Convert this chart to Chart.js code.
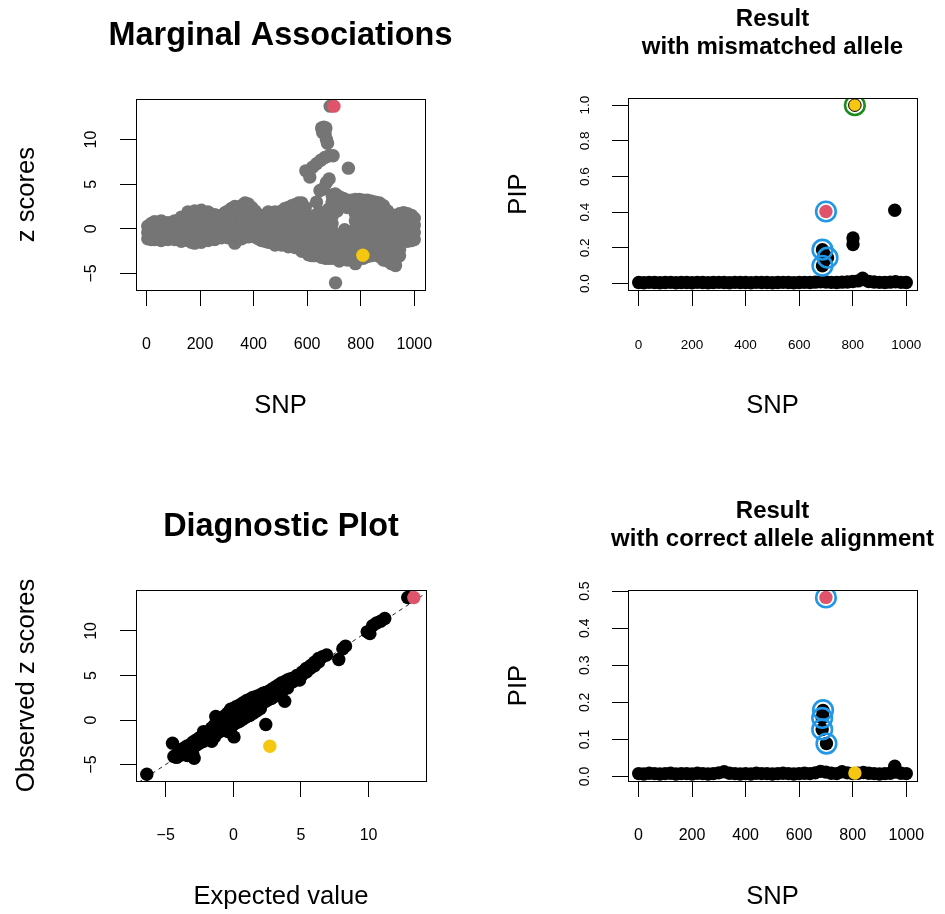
<!DOCTYPE html>
<html>
<head>
<meta charset="utf-8">
<title>Allele flip diagnostics</title>
<script src="https://cdn.jsdelivr.net/npm/chart.js@4.4.1/dist/chart.umd.min.js"></script>
<style>
  html, body { margin: 0; background: #fff; }
  #page { position: relative; width: 945px; height: 914px; }
  #page canvas { position: absolute; left: 0; top: 0; }
</style>
</head>
<body>
<div id="page">
  <canvas id="chart-marginal" width="945" height="914"></canvas>
  <canvas id="chart-mismatch" width="945" height="914"></canvas>
  <canvas id="chart-diagnostic" width="945" height="914"></canvas>
  <canvas id="chart-corrected" width="945" height="914"></canvas>
</div>
<script>
// ---- data -------------------------------------------------------------

// lead SNP (red) and the SNP with the flipped allele (yellow)
const leadSnp = 700;
const leadZ = 13.75;
const leadExpected = 13.35;
const flipSnp = 808;
const flipZ = -2.95;
const flipExpected = 2.7;

// marginal z score per SNP, [snp, z]
const marginalZ = [
  [5,0.3],[5,-0.4],[5,-1.1],[18,0.6],[18,-0.2],[18,-1.2],
  [30,0.8],[30,0.0],[30,-0.7],[30,-1.2],[45,0.5],[45,-0.5],
  [55,0.9],[55,0.1],[55,-0.6],[55,-1.3],[68,0.4],[68,-0.9],
  [80,0.7],[80,0.0],[80,-0.7],[80,-1.2],[93,0.3],[93,-0.4],
  [105,0.9],[105,0.1],[105,-0.5],[105,-1.2],[118,0.6],[118,-0.9],
  [130,1.3],[130,0.5],[130,-0.3],[130,-1.0],[130,-1.4],[143,0.9],[143,-0.6],
  [155,1.9],[155,1.1],[155,0.3],[155,-0.5],[155,-1.3],[168,1.5],[168,-0.1],[168,-1.5],
  [180,2.0],[180,1.2],[180,0.4],[180,-0.4],[180,-1.1],[180,-1.6],[193,1.6],[193,0.0],[193,-0.8],
  [205,2.1],[205,1.3],[205,0.5],[205,-0.3],[205,-1.0],[205,-1.5],[218,1.7],[218,0.1],[218,-1.2],
  [230,1.9],[230,1.1],[230,0.3],[230,-0.5],[230,-1.3],[243,1.2],[243,-0.9],
  [255,1.6],[255,0.8],[255,0.0],[255,-0.7],[255,-1.2],[268,0.4],[268,-0.3],
  [280,1.5],[280,0.7],[280,-0.1],[280,-1.0],[293,1.8],[293,0.3],[293,-0.6],
  [305,2.0],[305,1.2],[305,0.4],[305,-0.4],[305,-1.0],[318,2.3],[318,0.8],[318,-0.2],
  [330,2.5],[330,1.7],[330,0.9],[330,0.1],[330,-0.6],[330,-1.6],[343,2.2],[343,0.5],[343,-0.9],
  [355,2.6],[355,1.8],[355,1.0],[355,0.2],[355,-0.5],[355,-1.1],[368,2.9],[368,1.4],[368,-0.2],
  [380,2.8],[380,2.0],[380,1.2],[380,0.4],[380,-0.4],[380,-0.9],[393,2.4],[393,0.8],[393,-0.1],
  [405,2.0],[405,1.2],[405,0.4],[405,-0.3],[405,-0.9],[418,1.6],[418,0.0],[418,-1.1],
  [430,1.5],[430,0.7],[430,-0.1],[430,-0.8],[430,-1.3],[443,1.2],[443,-0.4],[443,-1.4],
  [455,1.9],[455,1.1],[455,0.3],[455,-0.5],[455,-1.5],[468,1.6],[468,0.0],[468,-1.0],
  [480,1.9],[480,1.0],[480,0.2],[480,-0.6],[480,-1.3],[480,-1.8],[493,1.5],[493,-0.2],[493,-1.0],
  [505,2.0],[505,1.2],[505,0.4],[505,-0.4],[505,-1.2],[505,-1.8],[518,2.3],[518,0.8],[518,-0.8],
  [530,2.4],[530,1.6],[530,0.8],[530,0.0],[530,-0.8],[530,-1.5],[530,-2.0],
  [543,2.6],[543,1.1],[543,-0.4],[543,-1.7],
  [555,2.7],[555,1.9],[555,1.1],[555,0.3],[555,-0.5],[555,-1.3],[555,-2.1],
  [568,2.9],[568,1.5],[568,-0.1],[568,-1.6],
  [580,2.9],[580,2.1],[580,1.3],[580,0.5],[580,-0.3],[580,-1.1],[580,-1.9],[580,-2.5],
  [593,2.4],[593,0.9],[593,-0.7],[593,-2.2],
  [605,1.4],[605,0.6],[605,-0.2],[605,-1.0],[605,-1.8],[605,-2.6],[605,-2.9],
  [618,1.0],[618,-0.6],[618,-2.1],[618,-3.0],
  [630,1.5],[630,0.7],[630,-0.1],[630,-0.9],[630,-1.7],[630,-2.5],[630,-3.0],
  [643,1.8],[643,0.3],[643,-1.3],[643,-2.8],
  [655,1.8],[655,1.0],[655,0.2],[655,-0.6],[655,-1.4],[655,-2.2],[655,-2.9],[655,-3.2],
  [668,1.3],[668,-0.3],[668,-1.8],[668,-3.3],
  [680,2.2],[680,1.4],[680,0.6],[680,-0.2],[680,-1.0],[680,-1.8],[680,-2.6],[680,-3.3],
  // signal around the lead SNP
  [686,13.75],
  [654,11.3],[662,11.4],[670,11.3],[658,10.8],[667,10.6],[672,10.0],[676,9.6],
  [595,6.5],[610,5.8],[620,6.9],[635,7.3],[651,7.7],[666,8.0],[682,8.2],[697,8.2],
  [635,3.0],[648,4.3],[660,4.5],[672,5.2],[682,5.6],[754,6.8],[706,-6.05],
  [693,3.8],[693,3.0],[693,2.2],[693,1.4],[693,0.6],[693,-0.2],[693,-1.0],[693,-1.8],[693,-2.6],[693,-3.3],
  [705,3.9],[705,3.1],[705,-0.7],[705,-1.5],[705,-2.3],[705,-3.1],[712,2.0],[740,-0.1],
  [720,3.6],[720,2.8],[720,-0.8],[720,-1.6],[720,-2.4],[720,-3.2],[720,-3.6],
  [735,3.4],[735,2.6],[735,-0.7],[735,-1.5],[735,-2.3],[735,-3.1],
  [750,3.2],[750,2.4],[750,-0.6],[750,-1.4],[750,-2.2],[750,-3.0],[750,-3.5],
  [765,3.2],[765,2.4],[765,-0.6],[765,-1.4],[765,-2.2],[765,-3.0],
  [780,3.3],[780,2.5],[780,1.7],[780,0.9],[780,0.1],[780,-0.7],[780,-1.5],[780,-2.3],[780,-3.1],[780,-3.9],
  [795,3.3],[795,2.5],[795,1.7],[795,0.9],[795,0.1],[795,-0.7],[795,-1.5],[795,-2.3],[795,-3.1],
  [810,3.2],[810,2.4],[810,1.6],[810,0.8],[810,0.0],[810,-0.8],[810,-1.6],[810,-2.3],[810,-3.3],
  [825,3.2],[825,2.4],[825,1.6],[825,0.8],[825,0.0],[825,-0.8],[825,-1.6],[825,-2.4],[825,-3.1],
  [840,3.1],[840,2.3],[840,1.5],[840,0.7],[840,-0.1],[840,-0.9],[840,-1.8],[840,-2.5],[840,-3.0],
  [855,3.0],[855,2.2],[855,1.4],[855,0.6],[855,-0.2],[855,-2.0],[855,-2.8],
  [870,2.9],[870,2.1],[870,1.3],[870,0.5],[870,-0.3],[870,-1.9],[870,-2.7],[870,-3.1],
  [885,2.6],[885,1.8],[885,1.0],[885,0.2],[885,-0.6],[885,-1.4],[885,-2.2],[885,-3.0],[885,-3.5],
  [900,2.0],[900,1.2],[900,0.4],[900,-0.4],[900,-1.2],[900,-2.0],[900,-2.8],[900,-3.6],
  [915,1.6],[915,0.8],[915,0.0],[915,-0.8],[915,-1.6],[915,-2.4],[915,-3.2],[915,-3.9],
  [930,1.4],[930,0.6],[930,-0.2],[930,-1.0],[930,-1.8],[930,-2.6],[930,-3.4],[930,-4.1],
  [945,1.7],[945,0.9],[945,0.1],[945,-0.7],[945,-1.5],[945,-2.3],[945,-3.0],
  [960,1.8],[960,1.0],[960,0.2],[960,-0.6],[960,-1.4],
  [975,1.7],[975,0.9],[975,0.1],[975,-0.7],[975,-1.4],
  [990,1.5],[990,0.7],[990,-0.1],[990,-0.9],[990,-1.3],
  [1000,1.2],[1000,0.4],[1000,-0.4],[1000,-1.2]
];

// expected vs observed z score, [expected, observed]
const diagZ = [
  [-6.4,-6.1],[-4.5,-2.6],[-4.4,-4.1],[-4.2,-3.9],[-4.2,-4.2],[-4.0,-3.5],[-4.0,-4.0],
  [-3.8,-3.3],[-3.8,-3.9],[-3.6,-3.1],[-3.6,-3.7],[-3.4,-2.9],[-3.4,-3.5],[-3.4,-4.0],
  [-3.2,-2.8],[-3.2,-3.4],[-3.0,-2.5],[-3.0,-3.1],[-3.0,-3.8],[-2.9,-4.3],
  [-2.8,-2.3],[-2.8,-2.9],[-2.6,-2.1],[-2.6,-2.7],[-2.4,-1.9],[-2.4,-2.5],
  [-2.2,-1.3],[-2.2,-1.8],[-2.2,-2.4],[-2.0,-1.5],[-2.0,-2.1],[-1.8,-1.2],[-1.8,-1.9],
  [-1.6,-0.9],[-1.6,-1.5],[-1.6,-2.4],[-1.4,-0.6],[-1.4,-1.2],[-1.4,-1.9],[-1.3,0.4],
  [-1.2,-0.3],[-1.2,-0.9],[-1.2,-1.5],[-1.0,0.0],[-1.0,-0.6],[-1.0,-1.3],
  [-0.8,0.2],[-0.8,-0.4],[-0.8,-1.1],[-0.6,0.5],[-0.6,-0.1],[-0.6,-0.8],
  [-0.4,0.8],[-0.4,0.2],[-0.4,-0.5],[-0.4,-1.3],[-0.2,1.2],[-0.2,0.5],[-0.2,-0.2],[-0.2,-0.9],
  [0.0,1.3],[0.0,0.7],[0.0,0.1],[0.0,-0.5],[0.05,-1.9],
  [0.2,1.5],[0.2,0.9],[0.2,0.3],[0.2,-0.3],[0.4,1.6],[0.4,1.0],[0.4,0.4],[0.4,-0.2],
  [0.6,1.8],[0.6,1.2],[0.6,0.6],[0.6,0.0],[0.8,2.0],[0.8,1.4],[0.8,0.8],[0.8,0.2],
  [1.0,2.2],[1.0,1.6],[1.0,1.0],[1.0,0.4],[1.2,2.3],[1.2,1.8],[1.2,1.2],[1.2,0.5],
  [1.4,2.5],[1.4,1.9],[1.4,1.3],[1.4,0.7],[1.6,2.6],[1.6,2.1],[1.6,1.5],[1.6,0.9],
  [1.8,2.7],[1.8,2.2],[1.8,1.7],[1.8,1.1],[2.0,2.8],[2.0,2.4],[2.0,1.9],[2.0,1.3],
  [2.2,3.0],[2.2,2.5],[2.2,2.0],[2.4,3.1],[2.4,2.6],[2.4,2.1],[2.4,-0.5],
  [2.6,3.2],[2.6,2.8],[2.6,2.3],[2.8,3.4],[2.8,2.9],[2.8,2.4],
  [3.0,3.6],[3.0,3.1],[3.0,2.6],[3.2,3.8],[3.2,3.3],[3.2,2.8],
  [3.4,4.0],[3.4,3.5],[3.4,3.0],[3.6,4.2],[3.6,3.7],[3.6,3.2],[3.8,4.3],[3.8,3.9],[3.8,2.1],
  [4.0,4.5],[4.0,4.1],[4.0,3.6],[4.2,4.6],[4.2,4.2],[4.4,4.7],[4.4,4.3],[4.7,5.0],[4.9,4.5],
  [5.1,5.4],[5.1,5.1],[5.4,5.8],[5.4,5.4],[5.7,6.1],[5.7,5.8],[6.0,6.5],[6.0,6.1],
  [6.3,6.9],[6.3,6.5],[6.6,7.1],[6.9,7.3],[7.8,6.8],[8.1,8.0],[8.3,8.3],
  [9.9,9.9],[10.1,9.7],[10.3,10.6],[10.6,10.9],[10.9,11.1],[11.2,11.4],[12.9,13.75]
];
// ends of the y = x reference line
const refLine = [-8, 15];

// PIP along the region; most SNPs sit near zero
const snpGrid = [1,20,40,60,80,100,120,140,160,180,200,220,240,260,280,300,320,340,360,380,
  400,420,440,460,480,500,520,540,560,580,600,620,640,660,680,700,720,740,760,780,
  800,820,840,860,880,900,920,940,960,980,1000];
const pipMismatchBase = [0.006,0.005,0.007,0.006,0.005,0.006,0.007,0.005,0.006,0.006,
  0.005,0.007,0.006,0.005,0.006,0.007,0.006,0.005,0.007,0.006,0.006,0.005,0.007,0.006,
  0.006,0.005,0.006,0.007,0.006,0.005,0.006,0.007,0.006,0.008,0.010,0.009,0.007,0.006,
  0.008,0.009,0.012,0.015,0.022,0.012,0.009,0.007,0.006,0.008,0.010,0.007,0.006];
const pipCorrectBase = [0.008,0.007,0.009,0.008,0.007,0.008,0.009,0.007,0.008,0.008,
  0.007,0.009,0.008,0.007,0.008,0.010,0.013,0.009,0.008,0.007,0.008,0.007,0.009,0.008,
  0.008,0.007,0.008,0.009,0.008,0.007,0.008,0.009,0.008,0.010,0.014,0.012,0.009,0.008,
  0.013,0.010,0.008,0.009,0.011,0.009,0.008,0.007,0.008,0.009,0.012,0.009,0.008];

// SNPs standing above the baseline, [snp, pip]
const pipMismatchHigh = [[687,0.19],[691,0.17],[706,0.145],[695,0.13],[687,0.10],
  [801,0.256],[801,0.219],[957,0.411],[837,0.03]];
const pipCorrectHigh = [[689,0.178],[688,0.166],[686,0.158],[686,0.127],[702,0.089],[957,0.028]];
const leadPipMismatch = 0.404;
const flipPipMismatch = 1.0;
const leadPipCorrect = 0.483;
const flipPipCorrect = 0.0095;

// credible set members
const csMismatch = [[687,0.19],[706,0.145],[687,0.10],[700,0.404]];
const csCorrect = [[689,0.179],[686,0.158],[686,0.127],[702,0.089],[700,0.483]];

const snpTicks = [0, 200, 400, 600, 800, 1000];
const zTicks = [-5, 0, 5, 10];
const pipTicksMismatch = [0, 0.2, 0.4, 0.6, 0.8, 1.0];
const pipTicksCorrect = [0, 0.1, 0.2, 0.3, 0.4, 0.5];

// ---- drawing ----------------------------------------------------------

const FONT = "'Liberation Sans', Arial, Helvetica, sans-serif";
const GRAY = '#757575';
const RED = '#DF536B';
const YELLOW = '#F5C710';
const BLUE = '#2297E6';
const GREEN = '#1a8c1a';
const DOT = 6.7;

const xy = arr => arr.map(([x, y]) => ({ x, y }));
const minus = v => String(v).replace('-', '\u2212');
const oneDec = v => v.toFixed(1);

function dots(data, color, order, extra) {
  return Object.assign({
    data, order,
    pointStyle: 'circle',
    pointRadius: DOT, pointHoverRadius: DOT,
    pointBackgroundColor: color, pointBorderWidth: 0, pointBorderColor: color,
  }, extra || {});
}

function rings(data, color, order) {
  return {
    data, order,
    pointStyle: 'circle',
    pointRadius: 9.8, pointHoverRadius: 9.8,
    pointBackgroundColor: 'rgba(0,0,0,0)', pointBorderColor: color, pointBorderWidth: 2.6,
  };
}

// box, main title and axis titles, placed like base R graphics
const rFrame = {
  id: 'rFrame',
  afterDatasetsDraw(chart) {
    const { ctx, chartArea: a } = chart;
    ctx.save();
    ctx.strokeStyle = '#000';
    ctx.lineWidth = 1;
    ctx.strokeRect(Math.round(a.left) + 0.5, Math.round(a.top) + 0.5,
      Math.round(a.right - a.left), Math.round(a.bottom - a.top));
    ctx.restore();
  },
  afterDraw(chart, args, opts) {
    const { ctx, chartArea: a } = chart;
    const cx = (a.left + a.right) / 2;
    ctx.save();
    ctx.fillStyle = '#000';
    ctx.textAlign = 'center';
    ctx.textBaseline = 'alphabetic';
    ctx.font = 'bold ' + opts.mainSize + 'px ' + FONT;
    opts.main.forEach((line, i) => ctx.fillText(line, cx, a.top - opts.mainRise[i]));
    ctx.font = '25.6px ' + FONT;
    ctx.fillText(opts.xlab, cx, a.bottom + 123.3);
    ctx.translate(a.left - 102.5, (a.top + a.bottom) / 2);
    ctx.rotate(-Math.PI / 2);
    ctx.fillText(opts.ylab, 0, 0);
    ctx.restore();
  }
};

function axis(p, which) {
  const horiz = which === 'x';
  const s = p[which];
  return {
    type: 'linear',
    position: horiz ? 'bottom' : 'left',
    min: s.min, max: s.max,
    afterBuildTicks: sc => { sc.ticks = s.ticks.map(v => ({ value: v })); },
    afterFit: sc => {
      if (horiz) sc.height = p.bottomEdge - p.box.b;
      else sc.width = p.box.l - p.leftEdge;
      sc.paddingLeft = sc.paddingRight = sc.paddingTop = sc.paddingBottom = 0;
    },
    grid: { display: true, drawOnChartArea: false, drawTicks: true, tickLength: 16, color: '#000', lineWidth: 1 },
    border: { display: false },
    ticks: {
      autoSkip: false, color: '#000', padding: s.pad,
      font: { family: FONT, size: s.size },
      minRotation: horiz ? 0 : 90, maxRotation: horiz ? 0 : 90,
      crossAlign: horiz ? 'near' : 'center',
      callback: s.fmt,
    },
  };
}

function panel(id, p) {
  return new Chart(document.getElementById(id), {
    type: 'scatter',
    data: { datasets: p.datasets },
    options: {
      responsive: false, animation: false, events: [], devicePixelRatio: 1,
      layout: {
        autoPadding: false,
        padding: { left: p.leftEdge, right: 945 - p.box.r, top: p.box.t, bottom: 914 - p.bottomEdge },
      },
      scales: { x: axis(p, 'x'), y: axis(p, 'y') },
      plugins: {
        legend: { display: false },
        tooltip: { enabled: false },
        rFrame: p.text,
      },
    },
    plugins: [rFrame],
  });
}

panel('chart-marginal', {
  box: { l: 136, t: 99, r: 425, b: 290 }, leftEdge: 0, bottomEdge: 457,
  x: { min: -39, max: 1040, ticks: snpTicks, fmt: minus, size: 16, pad: 28.7 },
  y: { min: -6.85, max: 14.55, ticks: zTicks, fmt: minus, size: 16, pad: 19 },
  text: { main: ['Marginal Associations'], mainSize: 32.4, mainRise: [54.5], xlab: 'SNP', ylab: 'z scores' },
  datasets: [
    dots(xy([[leadSnp, leadZ]]), RED, 1),
    dots(xy([[flipSnp, flipZ]]), YELLOW, 1),
    dots(xy(marginalZ), GRAY, 2),
  ],
});

panel('chart-mismatch', {
  box: { l: 628, t: 98, r: 917, b: 290 }, leftEdge: 472, bottomEdge: 457,
  x: { min: -39, max: 1040, ticks: snpTicks, fmt: minus, size: 13.5, pad: 31.1 },
  y: { min: -0.036, max: 1.04, ticks: pipTicksMismatch, fmt: oneDec, size: 13.5, pad: 17.8 },
  text: { main: ['Result', 'with mismatched allele'], mainSize: 24, mainRise: [72, 44], xlab: 'SNP', ylab: 'PIP' },
  datasets: [
    rings(xy(csMismatch), BLUE, 0),
    rings(xy([[flipSnp, flipPipMismatch]]), GREEN, 0),
    dots(xy([[leadSnp, leadPipMismatch]]), RED, 1),
    dots(xy([[flipSnp, flipPipMismatch]]), YELLOW, 1, { pointBorderWidth: 1, pointBorderColor: '#000', pointRadius: 6.3 }),
    dots(xy(pipMismatchHigh), '#000', 2),
    dots(snpGrid.map((s, i) => ({ x: s, y: pipMismatchBase[i] })), '#000', 2),
  ],
});

panel('chart-diagnostic', {
  box: { l: 136, t: 590, r: 426, b: 781 }, leftEdge: 0, bottomEdge: 914,
  x: { min: -7.2, max: 14.25, ticks: zTicks, fmt: minus, size: 16, pad: 28.7 },
  y: { min: -6.85, max: 14.6, ticks: zTicks, fmt: minus, size: 16, pad: 19 },
  text: { main: ['Diagnostic Plot'], mainSize: 32.4, mainRise: [54.5], xlab: 'Expected value', ylab: 'Observed z scores' },
  datasets: [
    dots(xy([[leadExpected, leadZ]]), RED, 1),
    dots(xy([[flipExpected, flipZ]]), YELLOW, 1),
    dots(xy(diagZ), '#000', 2),
    {
      type: 'line', order: 3,
      data: refLine.map(v => ({ x: v, y: v })),
      borderColor: '#222', borderWidth: 1, borderDash: [4, 4],
      pointRadius: 0, fill: false,
    },
  ],
});

panel('chart-corrected', {
  box: { l: 628, t: 590, r: 917, b: 781 }, leftEdge: 472, bottomEdge: 914,
  x: { min: -39, max: 1040, ticks: snpTicks, fmt: minus, size: 16, pad: 28.7 },
  y: { min: -0.012, max: 0.503, ticks: pipTicksCorrect, fmt: oneDec, size: 14, pad: 17.6 },
  text: { main: ['Result', 'with correct allele alignment'], mainSize: 24, mainRise: [72, 44], xlab: 'SNP', ylab: 'PIP' },
  datasets: [
    rings(xy(csCorrect), BLUE, 0),
    dots(xy([[leadSnp, leadPipCorrect]]), RED, 1),
    dots(xy([[flipSnp, flipPipCorrect]]), YELLOW, 1),
    dots(xy(pipCorrectHigh), '#000', 2),
    dots(snpGrid.map((s, i) => ({ x: s, y: pipCorrectBase[i] })), '#000', 2),
  ],
});
</script>
</body>
</html>
